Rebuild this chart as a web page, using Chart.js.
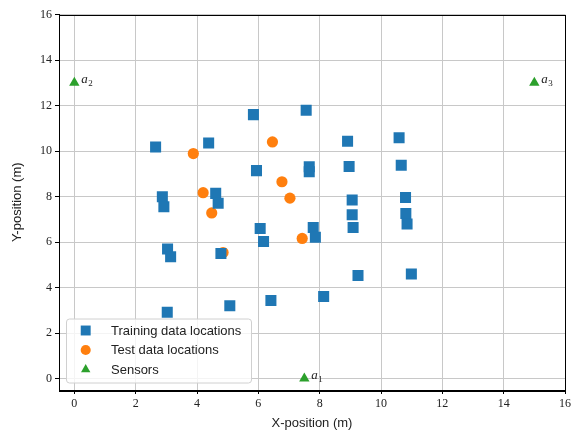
<!DOCTYPE html>
<html>
<head>
<meta charset="utf-8">
<script src="https://cdn.jsdelivr.net/npm/chart.js"></script>
<style>
  html, body { margin: 0; padding: 0; background: #fff; }
</style>
</head>
<body>
<canvas id="chart" width="580" height="433"></canvas>
<script>
// training locations (blue squares)
const trainX = [2.65, 4.38, 5.84, 7.56, 8.91, 10.59, 5.94, 7.66, 7.66, 8.96, 10.66,
  2.87, 2.92, 4.61, 4.69, 9.06, 9.06, 9.09, 10.80, 10.81, 10.85, 7.79, 7.86,
  6.06, 6.17, 3.04, 3.14, 4.78, 5.07, 6.41, 8.13, 9.25, 10.99, 3.03];
const trainY = [10.18, 10.35, 11.60, 11.79, 10.43, 10.58, 9.14, 9.31, 9.09, 9.32, 9.38,
  7.99, 7.55, 8.14, 7.71, 7.85, 7.20, 6.64, 7.96, 7.26, 6.79, 6.64, 6.21,
  6.60, 6.03, 5.70, 5.36, 5.50, 3.20, 3.43, 3.61, 4.53, 4.60, 2.92];

// test locations (orange dots)
const testX = [3.88, 6.46, 6.77, 7.03, 4.20, 4.48, 4.85, 7.43];
const testY = [9.89, 10.40, 8.65, 7.93, 8.17, 7.28, 5.54, 6.16];

// sensors
const sensorX = [7.5, 0, 15];
const sensorY = [0, 13, 13];
const sensorIdx = ['1', '2', '3'];

const xTicks = [0, 2, 4, 6, 8, 10, 12, 14, 16];
const yTicks = [0, 2, 4, 6, 8, 10, 12, 14, 16];

const labels = ['Training data locations', 'Test data locations', 'Sensors'];
const colors = ['#1f77b4', '#ff7f0e', '#2ca02c'];
const styles = ['rect', 'circle', 'triangle'];
const radii = [7.8, 5.6, 6];

const toPts = (xs, ys) => xs.map((x, i) => ({ x: x, y: ys[i] }));

const sansFont = '"Liberation Sans", Arial, sans-serif';
const serifFont = '"Liberation Serif", "DejaVu Serif", serif';

// box round the axes + sensor names + legend
const extras = {
  id: 'extras',
  afterDatasetsDraw(chart) {
    const ctx = chart.ctx;
    const a = chart.chartArea;
    const sx = chart.scales.x, sy = chart.scales.y;
    ctx.save();
    ctx.strokeStyle = '#000';
    ctx.lineWidth = 1;
    ctx.strokeRect(Math.round(a.left) + 0.5, Math.round(a.top) + 0.5,
      Math.round(a.right - a.left), Math.round(a.bottom - a.top));

    // a_1, a_2, a_3
    ctx.fillStyle = '#222';
    ctx.textBaseline = 'alphabetic';
    ctx.textAlign = 'left';
    sensorX.forEach((v, i) => {
      const px = sx.getPixelForValue(v) + 7;
      const py = sy.getPixelForValue(sensorY[i]) + 0.5;
      ctx.font = 'italic 13px ' + serifFont;
      ctx.fillText('a', px, py);
      const w = ctx.measureText('a').width;
      ctx.font = '9px ' + serifFont;
      ctx.fillText(sensorIdx[i], px + w + 0.5, py + 2.5);
    });

    // legend
    const lx = 66.5, ly = 319, lw = 185, lh = 64;
    ctx.beginPath();
    ctx.roundRect(lx, ly, lw, lh, 3);
    ctx.fillStyle = 'rgba(255,255,255,0.8)';
    ctx.fill();
    ctx.strokeStyle = '#d0d0d0';
    ctx.stroke();
    ctx.font = '13px ' + sansFont;
    ctx.textBaseline = 'middle';
    labels.forEach((t, i) => {
      const y = 330.5 + i * 19.5;
      ctx.fillStyle = colors[i];
      Chart.helpers.drawPoint(ctx, { pointStyle: styles[i], radius: radii[i] * 0.9, rotation: 0, borderWidth: 0 }, 85.7, y);
      ctx.fillStyle = '#222';
      ctx.fillText(t, 111, y + 0.5);
    });
    ctx.restore();
  }
};

new Chart(document.getElementById('chart'), {
  type: 'scatter',
  data: {
    datasets: [
      { label: labels[0], data: toPts(trainX, trainY), pointStyle: styles[0], pointRadius: radii[0],
        backgroundColor: colors[0], borderWidth: 0 },
      { label: labels[1], data: toPts(testX, testY), pointStyle: styles[1], pointRadius: radii[1],
        backgroundColor: colors[1], borderWidth: 0 },
      { label: labels[2], data: toPts(sensorX, sensorY), pointStyle: styles[2], pointRadius: radii[2],
        backgroundColor: colors[2], borderWidth: 0 }
    ]
  },
  options: {
    responsive: false,
    animation: false,
    devicePixelRatio: 1,
    events: [],
    layout: { padding: { top: 14.5, right: 15, left: 0, bottom: 0 } },
    plugins: { legend: { display: false }, tooltip: { enabled: false } },
    scales: {
      x: {
        type: 'linear', min: -0.5, max: 16,
        afterBuildTicks: s => { s.ticks = xTicks.map(v => ({ value: v })); },
        afterFit: s => { s.height = 43; },
        grid: { color: '#c8c8c8', lineWidth: 1, tickColor: '#000', tickLength: 4 },
        border: { color: '#000', width: 1 },
        ticks: { color: '#222', padding: 3, font: { family: serifFont, size: 12 } },
        title: { display: true, text: 'X-position (m)', color: '#222',
          font: { family: sansFont, size: 13 }, padding: { top: 0, bottom: 2 } }
      },
      y: {
        type: 'linear', min: -0.5, max: 16,
        afterBuildTicks: s => { s.ticks = yTicks.map(v => ({ value: v })); },
        afterFit: s => { s.width = 59; },
        grid: { color: '#c8c8c8', lineWidth: 1, tickColor: '#000', tickLength: 4 },
        border: { color: '#000', width: 1 },
        ticks: { color: '#222', padding: 3, font: { family: serifFont, size: 12 } },
        title: { display: true, text: 'Y-position (m)', color: '#222',
          font: { family: sansFont, size: 13 }, padding: { top: 10, bottom: 0 } }
      }
    }
  },
  plugins: [extras]
});
</script>
</body>
</html>
